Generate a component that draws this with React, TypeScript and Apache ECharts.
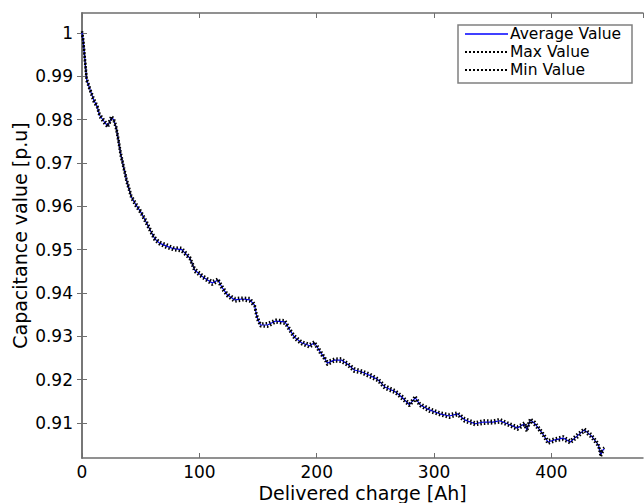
import React, { useEffect, useRef } from "react";
import * as echarts from "echarts";

const charge = [0, 1, 2.5, 4, 7, 10, 13, 15, 19, 22, 25, 27, 29, 31, 33, 36, 38, 42, 46, 50, 55, 59, 62, 66, 72, 78, 85, 92, 96, 103, 111, 116, 119, 124, 130, 137, 143, 147, 149, 152, 158, 165, 173, 177, 181, 187, 194, 198, 203, 207, 209, 215, 221, 227, 232, 238, 245, 252, 258, 267, 273, 279, 284, 288, 296, 305, 313, 320, 326, 335, 342, 350, 356, 365, 371, 377, 379, 382, 386, 392, 397, 403, 410, 416, 422, 428, 434, 440, 442, 444, 445];

const averageValues = [1.0, 0.9984, 0.9938, 0.9892, 0.9868, 0.9845, 0.983, 0.981, 0.9795, 0.9785, 0.9804, 0.98, 0.9783, 0.9753, 0.972, 0.9684, 0.966, 0.9622, 0.9603, 0.9587, 0.9562, 0.954, 0.9525, 0.9515, 0.9508, 0.9502, 0.95, 0.948, 0.9453, 0.9437, 0.9423, 0.943, 0.9414, 0.9395, 0.9384, 0.9386, 0.9384, 0.9372, 0.9345, 0.9326, 0.9326, 0.9335, 0.9333, 0.9315, 0.9298, 0.9285, 0.9278, 0.9285, 0.9264, 0.9248, 0.9238, 0.9245, 0.9245, 0.9234, 0.9222, 0.9218, 0.921, 0.92, 0.9183, 0.9172, 0.9158, 0.9142, 0.9158, 0.9142, 0.913, 0.9121, 0.9116, 0.9121, 0.9107, 0.9098, 0.9102, 0.9102, 0.9105, 0.9095, 0.9088, 0.9098, 0.9084, 0.9107, 0.9098, 0.9077, 0.9056, 0.9061, 0.9065, 0.9056, 0.907, 0.9084, 0.907, 0.9049, 0.9026, 0.9038, 0.904];

const maxValues = [1.0004, 0.9987, 0.9941, 0.9896, 0.9871, 0.9849, 0.9833, 0.9814, 0.9798, 0.9789, 0.9808, 0.9803, 0.9787, 0.9756, 0.9724, 0.9687, 0.9664, 0.9625, 0.9607, 0.959, 0.9566, 0.9543, 0.9529, 0.9518, 0.9512, 0.9505, 0.9504, 0.9483, 0.9457, 0.944, 0.9427, 0.9433, 0.9418, 0.9398, 0.9388, 0.9389, 0.9388, 0.9375, 0.9349, 0.9329, 0.933, 0.9338, 0.9337, 0.9318, 0.9302, 0.9288, 0.9282, 0.9288, 0.9268, 0.9251, 0.9242, 0.9248, 0.9249, 0.9237, 0.9226, 0.9221, 0.9214, 0.9203, 0.9187, 0.9175, 0.9162, 0.9145, 0.9162, 0.9145, 0.9134, 0.9124, 0.912, 0.9124, 0.9111, 0.9101, 0.9106, 0.9105, 0.9109, 0.9098, 0.9092, 0.9101, 0.909, 0.911, 0.9102, 0.908, 0.906, 0.9064, 0.9069, 0.9059, 0.9074, 0.9087, 0.9074, 0.9052, 0.9031, 0.9041, 0.9043];

const minValues = [0.9997, 0.9981, 0.9934, 0.9889, 0.9865, 0.9841, 0.9827, 0.9807, 0.9791, 0.9782, 0.98, 0.9797, 0.9779, 0.975, 0.9716, 0.9681, 0.9656, 0.9619, 0.9599, 0.9584, 0.9558, 0.9537, 0.9521, 0.9512, 0.9504, 0.9499, 0.9496, 0.9477, 0.9449, 0.9434, 0.9419, 0.9427, 0.941, 0.9392, 0.938, 0.9383, 0.938, 0.9369, 0.9341, 0.9323, 0.9322, 0.9332, 0.9329, 0.9312, 0.9294, 0.9282, 0.9274, 0.9282, 0.926, 0.9245, 0.9234, 0.9242, 0.9241, 0.9231, 0.9218, 0.9215, 0.9206, 0.9197, 0.9179, 0.9169, 0.9154, 0.9139, 0.9154, 0.9139, 0.9126, 0.9118, 0.9112, 0.9118, 0.9103, 0.9095, 0.9098, 0.9099, 0.9101, 0.9092, 0.9084, 0.9095, 0.908, 0.9104, 0.9094, 0.9074, 0.9052, 0.9058, 0.9061, 0.9053, 0.9066, 0.9081, 0.9066, 0.9046, 0.9022, 0.9035, 0.9037];

const yTicks = [0.91, 0.92, 0.93, 0.94, 0.95, 0.96, 0.97, 0.98, 0.99, 1];
const legendNames = ["Average Value", "Max Value", "Min Value"];

const FONT = "DejaVu Sans, sans-serif";
const AXIS = "#6e6e6e";

export default function App() {
  const ref = useRef<HTMLDivElement>(null);
  useEffect(() => {
    if (!ref.current) return;
    const chart = echarts.init(ref.current, undefined, { renderer: "svg" });
    const pts = (ys: number[]) => charge.map((x, i) => [x, ys[i]]);
    const yLabelFmt = (v: number) => (Math.abs(v - 1) < 1e-9 ? "1" : v.toFixed(2));
    const rowY = [34, 52, 70];
    const legendGraphic: any[] = [
      {
        type: "rect",
        shape: { x: 458, y: 25, width: 174, height: 58 },
        style: { fill: "#fff", stroke: "#808080", lineWidth: 1.5 },
        z: 100,
      },
    ];
    legendNames.forEach((name, i) => {
      legendGraphic.push({
        type: "line",
        shape: { x1: 465, y1: rowY[i], x2: 508, y2: rowY[i] },
        style: i === 0
          ? { stroke: "#0000ff", lineWidth: 1.5 }
          : { stroke: "#000", lineWidth: 2, lineDash: [2, 2] },
        z: 101,
      });
      legendGraphic.push({
        type: "text",
        x: 510,
        y: rowY[i],
        style: { text: name, fill: "#000", fontSize: 15.5, fontFamily: FONT, verticalAlign: "middle", align: "left" },
        z: 101,
      });
    });
    chart.setOption({
      animation: false,
      textStyle: { fontFamily: FONT },
      grid: { left: 82, top: 13, right: 1, bottom: 45, containLabel: false, outerBoundsMode: "none" },
      graphic: legendGraphic,
      xAxis: [
        {
          type: "value",
          min: 0,
          max: 478,
          interval: 100,
          position: "bottom",
          axisLine: { show: true, lineStyle: { color: AXIS, width: 1.5 } },
          axisTick: { show: true, inside: true, length: 5, lineStyle: { color: AXIS } },
          axisLabel: { color: "#000", fontSize: 17, lineHeight: 17, margin: 5, showMaxLabel: false },
          splitLine: { show: false },
          name: "Delivered charge [Ah]",
          nameLocation: "middle",
          nameGap: 26,
          nameMoveOverlap: false,
          nameTextStyle: { fontSize: 19, color: "#000", lineHeight: 17 },
        },
        {
          type: "value",
          min: 0,
          max: 478,
          interval: 100,
          position: "top",
          axisLine: { show: true, lineStyle: { color: AXIS, width: 1.5 } },
          axisTick: { show: true, inside: true, length: 5, lineStyle: { color: AXIS } },
          axisLabel: { show: false },
          splitLine: { show: false },
        },
      ],
      yAxis: [
        {
          type: "value",
          min: 0.9019,
          max: 1.0046,
          position: "left",
          axisLine: { show: true, lineStyle: { color: AXIS, width: 1.5 } },
          axisTick: { show: true, inside: true, length: 5, lineStyle: { color: AXIS }, customValues: yTicks },
          axisLabel: { color: "#000", fontSize: 17, margin: 9, customValues: yTicks, formatter: yLabelFmt },
          splitLine: { show: false },
          name: "Capacitance value [p.u]",
          nameLocation: "middle",
          nameGap: 53,
          nameMoveOverlap: false,
          nameTextStyle: { fontSize: 19, color: "#000" },
        },
        {
          type: "value",
          min: 0.9019,
          max: 1.0046,
          position: "right",
          axisLine: { show: true, lineStyle: { color: AXIS, width: 1.5 } },
          axisTick: { show: true, inside: true, length: 5, lineStyle: { color: AXIS }, customValues: yTicks },
          axisLabel: { show: false },
          splitLine: { show: false },
        },
      ],
      series: [
        {
          name: legendNames[0],
          type: "line",
          data: pts(averageValues),
          showSymbol: false,
          symbol: "none",
          lineStyle: { color: "#0000ff", width: 1.2, type: "solid" },
          z: 2,
        },
        {
          name: legendNames[1],
          type: "line",
          data: pts(maxValues),
          showSymbol: false,
          symbol: "none",
          lineStyle: { color: "#000", width: 2.5, type: [1.5, 2] },
          z: 3,
        },
        {
          name: legendNames[2],
          type: "line",
          data: pts(minValues),
          showSymbol: false,
          symbol: "none",
          lineStyle: { color: "#000", width: 2.5, type: [1.5, 2], dashOffset: 1.7 },
          z: 3,
        },
      ],
    });
    return () => chart.dispose();
  }, []);
  return <div ref={ref} style={{ width: 644, height: 503, position: "absolute", left: 0, top: 0, background: "#fff" }} />;
}
